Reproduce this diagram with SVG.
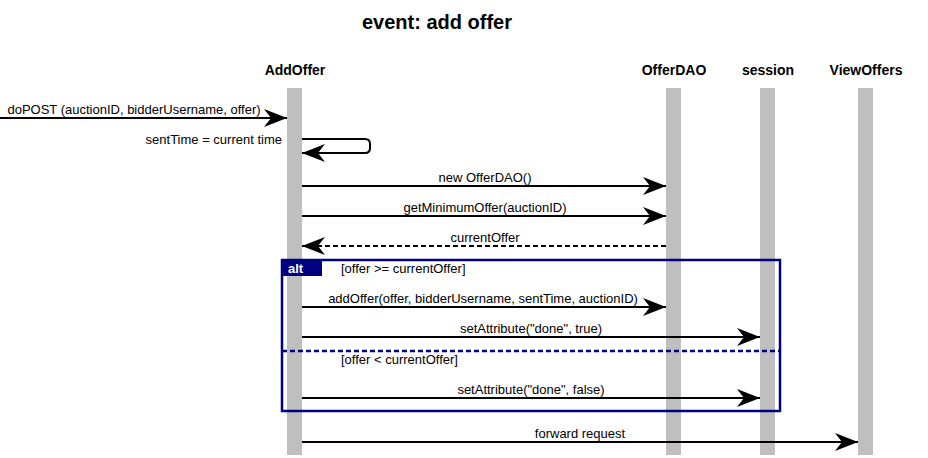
<svg xmlns="http://www.w3.org/2000/svg" width="928" height="458" viewBox="0 0 928 458">
<style>
.title{font-family:"Liberation Sans",Arial,sans-serif;font-weight:bold;font-size:20px;fill:#000}
.actor{font-family:"Liberation Sans",Arial,sans-serif;font-weight:bold;font-size:14px;fill:#000;text-anchor:middle}
.msg{font-family:"Liberation Sans",Arial,sans-serif;font-size:13px;fill:#000;text-anchor:middle}
.guard{font-family:"Liberation Sans",Arial,sans-serif;font-size:13px;fill:#000}
.life{fill:#bfbfbf}
.line{stroke:#000;stroke-width:2;fill:none}
.dash{stroke-dasharray:5,3}
.frame{stroke:#000080;stroke-width:2.5;fill:none}
</style>
<defs>
<marker id="ah" markerUnits="userSpaceOnUse" markerWidth="26" markerHeight="20" viewBox="-24 -10 26 20" refX="0" refY="0" orient="auto">
<path d="M0,0 L-23,-9 L-16,0 L-23,9 Z" fill="#000"/>
</marker>
</defs>
<text class="title" x="437" y="29" text-anchor="middle">event: add offer</text>
<g id="AddOffer"><text class="actor" x="295" y="75">AddOffer</text><rect class="life" x="287" y="88" width="15" height="367"/></g>
<g id="OfferDAO"><text class="actor" x="674" y="75">OfferDAO</text><rect class="life" x="666" y="88" width="15" height="367"/></g>
<g id="session"><text class="actor" x="768" y="75">session</text><rect class="life" x="760" y="88" width="15" height="367"/></g>
<g id="ViewOffers"><text class="actor" x="866" y="75">ViewOffers</text><rect class="life" x="858" y="88" width="15" height="367"/></g>
<g id="alt">
<rect class="frame" x="282" y="260" width="498" height="151"/>
<path d="M282,260 H322 V276 H282 Z" fill="#000080"/>
<text x="288" y="273" font-family="Liberation Sans,Arial,sans-serif" font-weight="bold" font-size="13" fill="#fff">alt</text>
<text class="guard" x="341" y="273">[offer &gt;= currentOffer]</text>
<line x1="282" y1="351" x2="780" y2="351" stroke="#000080" stroke-width="2.5" stroke-dasharray="5,3"/>
<text class="guard" x="341" y="364">[offer &lt; currentOffer]</text>
</g>
<g id="connectors">
<line class="line" x1="0" y1="118" x2="287" y2="118" marker-end="url(#ah)"/>
<text class="msg" x="134" y="114">doPOST (auctionID, bidderUsername, offer)</text>
<path class="line" d="M302,139 H365 Q370,139 370,144 V148 Q370,153 365,153 H302" marker-end="url(#ah)"/>
<text class="msg" x="282" y="144" style="text-anchor:end">sentTime = current time</text>
<line class="line" x1="302" y1="186" x2="666" y2="186" marker-end="url(#ah)"/>
<text class="msg" x="485" y="182">new OfferDAO()</text>
<line class="line" x1="302" y1="216" x2="666" y2="216" marker-end="url(#ah)"/>
<text class="msg" x="485" y="212">getMinimumOffer(auctionID)</text>
<line class="line dash" x1="666" y1="246" x2="302" y2="246" marker-end="url(#ah)"/>
<text class="msg" x="485" y="242">currentOffer</text>
<line class="line" x1="302" y1="307" x2="666" y2="307" marker-end="url(#ah)"/>
<text class="msg" x="483" y="303">addOffer(offer, bidderUsername, sentTime, auctionID)</text>
<line class="line" x1="302" y1="337" x2="760" y2="337" marker-end="url(#ah)"/>
<text class="msg" x="531" y="333">setAttribute("done", true)</text>
<line class="line" x1="302" y1="398" x2="760" y2="398" marker-end="url(#ah)"/>
<text class="msg" x="531" y="394">setAttribute("done", false)</text>
<line class="line" x1="302" y1="442" x2="858" y2="442" marker-end="url(#ah)"/>
<text class="msg" x="580" y="438">forward request</text>
</g>
</svg>
